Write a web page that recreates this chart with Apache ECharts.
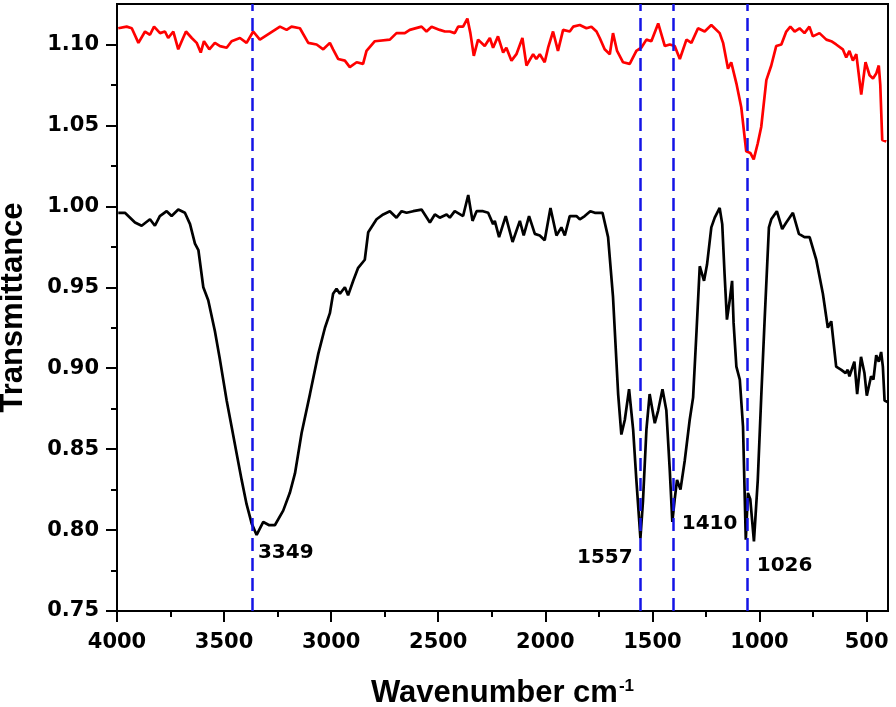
<!DOCTYPE html>
<html>
<head>
<meta charset="utf-8">
<script src="https://cdn.jsdelivr.net/npm/echarts@6/dist/echarts.min.js"></script>
<style>
  html, body { margin: 0; padding: 0; background: #fff; }
  #main { width: 896px; height: 707px; }
</style>
</head>
<body>
<div id="main"></div>
<script>
// spectra: [wavenumber cm-1, transmittance]
const blackSpectrum = [
  [3994, 0.996], [3963, 0.996], [3916, 0.990], [3885, 0.988], [3846, 0.992], [3823, 0.988],
  [3800, 0.994], [3768, 0.997], [3745, 0.994], [3714, 0.998], [3683, 0.996], [3659, 0.989],
  [3636, 0.977], [3620, 0.973], [3597, 0.950], [3574, 0.942], [3543, 0.923], [3519, 0.905],
  [3488, 0.880], [3465, 0.864], [3441, 0.847], [3418, 0.831], [3395, 0.816], [3371, 0.804],
  [3348, 0.797], [3317, 0.805], [3289, 0.803], [3263, 0.803], [3224, 0.812], [3193, 0.823],
  [3169, 0.835], [3138, 0.860], [3099, 0.884], [3060, 0.909], [3029, 0.925], [3006, 0.934],
  [2991, 0.946], [2975, 0.949], [2959, 0.946], [2936, 0.950], [2921, 0.945], [2897, 0.954],
  [2874, 0.962], [2843, 0.967], [2827, 0.984], [2788, 0.992], [2757, 0.995], [2726, 0.997],
  [2695, 0.993], [2671, 0.997], [2648, 0.996], [2617, 0.997], [2578, 0.998], [2539, 0.990],
  [2516, 0.995], [2493, 0.993], [2461, 0.995], [2446, 0.993], [2423, 0.997], [2384, 0.994],
  [2360, 1.007], [2340, 0.991], [2321, 0.997], [2291, 0.997], [2267, 0.996], [2244, 0.989],
  [2236, 0.991], [2216, 0.981], [2185, 0.994], [2153, 0.978], [2119, 0.991], [2101, 0.982],
  [2076, 0.994], [2049, 0.983], [2026, 0.982], [2003, 0.979], [1976, 0.999], [1948, 0.982],
  [1925, 0.987], [1909, 0.982], [1886, 0.994], [1855, 0.994], [1839, 0.992], [1816, 0.994],
  [1790, 0.997], [1769, 0.996], [1733, 0.996], [1707, 0.981], [1684, 0.944], [1660, 0.884],
  [1645, 0.859], [1629, 0.868], [1609, 0.887], [1590, 0.862], [1575, 0.831], [1556, 0.795],
  [1544, 0.818], [1528, 0.862], [1513, 0.884], [1489, 0.866], [1473, 0.874], [1453, 0.887],
  [1435, 0.874], [1419, 0.837], [1407, 0.805], [1396, 0.819], [1385, 0.831], [1369, 0.825],
  [1349, 0.843], [1326, 0.868], [1310, 0.882], [1294, 0.923], [1279, 0.963], [1259, 0.954],
  [1245, 0.964], [1225, 0.987], [1209, 0.993], [1186, 0.999], [1174, 0.989], [1163, 0.958],
  [1152, 0.930], [1139, 0.942], [1128, 0.954], [1121, 0.928], [1108, 0.901], [1092, 0.893],
  [1077, 0.864], [1064, 0.794], [1054, 0.823], [1043, 0.819], [1026, 0.793], [1008, 0.831],
  [992, 0.882], [976, 0.930], [956, 0.987], [945, 0.992], [919, 0.997], [894, 0.986],
  [875, 0.990], [844, 0.996], [816, 0.983], [790, 0.981], [766, 0.981], [735, 0.967],
  [704, 0.946], [681, 0.925], [665, 0.929], [642, 0.901], [618, 0.899], [598, 0.897],
  [588, 0.899], [580, 0.895], [557, 0.904], [544, 0.884], [526, 0.907], [510, 0.897],
  [499, 0.883], [479, 0.895], [468, 0.893], [455, 0.908], [443, 0.904], [432, 0.910],
  [424, 0.901], [416, 0.880], [400, 0.879]
];

const redSpectrum = [
  [3994, 1.110], [3955, 1.111], [3931, 1.110], [3900, 1.101], [3869, 1.108], [3846, 1.106],
  [3827, 1.111], [3799, 1.107], [3776, 1.108], [3761, 1.104], [3737, 1.108], [3714, 1.097],
  [3698, 1.102], [3678, 1.108], [3651, 1.104], [3628, 1.101], [3609, 1.095], [3594, 1.102],
  [3569, 1.097], [3543, 1.101], [3519, 1.099], [3488, 1.098], [3465, 1.102], [3426, 1.104],
  [3395, 1.101], [3364, 1.108], [3333, 1.103], [3286, 1.107], [3239, 1.111], [3208, 1.109],
  [3185, 1.111], [3146, 1.110], [3107, 1.101], [3068, 1.100], [3037, 1.097], [3006, 1.101],
  [2991, 1.097], [2967, 1.091], [2936, 1.090], [2913, 1.086], [2881, 1.089], [2851, 1.088],
  [2835, 1.096], [2796, 1.102], [2726, 1.103], [2695, 1.107], [2656, 1.107], [2633, 1.109],
  [2578, 1.111], [2555, 1.108], [2531, 1.111], [2493, 1.109], [2469, 1.108], [2446, 1.108],
  [2423, 1.107], [2407, 1.111], [2384, 1.111], [2364, 1.116], [2350, 1.107], [2334, 1.093],
  [2314, 1.103], [2283, 1.099], [2259, 1.104], [2244, 1.098], [2221, 1.105], [2197, 1.095],
  [2182, 1.098], [2158, 1.090], [2135, 1.094], [2107, 1.104], [2088, 1.087], [2057, 1.094],
  [2042, 1.091], [2026, 1.094], [2003, 1.089], [1987, 1.098], [1964, 1.108], [1941, 1.096],
  [1917, 1.109], [1886, 1.108], [1870, 1.111], [1839, 1.112], [1808, 1.110], [1785, 1.111],
  [1761, 1.108], [1746, 1.104], [1723, 1.097], [1699, 1.094], [1684, 1.107], [1665, 1.096],
  [1637, 1.089], [1606, 1.088], [1575, 1.096], [1552, 1.098], [1528, 1.103], [1505, 1.102],
  [1473, 1.113], [1442, 1.099], [1419, 1.100], [1396, 1.099], [1372, 1.091], [1341, 1.103],
  [1318, 1.101], [1287, 1.110], [1256, 1.108], [1225, 1.112], [1186, 1.107], [1170, 1.101],
  [1147, 1.085], [1132, 1.089], [1108, 1.076], [1085, 1.061], [1062, 1.034], [1043, 1.033],
  [1027, 1.029], [1008, 1.039], [992, 1.049], [968, 1.078], [945, 1.087], [922, 1.099],
  [898, 1.100], [875, 1.108], [856, 1.111], [836, 1.108], [813, 1.110], [790, 1.107],
  [767, 1.111], [751, 1.105], [720, 1.107], [688, 1.103], [665, 1.102], [642, 1.100],
  [611, 1.097], [595, 1.092], [580, 1.096], [564, 1.090], [548, 1.094], [525, 1.069],
  [505, 1.089], [486, 1.081], [470, 1.079], [455, 1.082], [443, 1.087], [436, 1.075],
  [427, 1.041], [408, 1.040]
];

// dashed marker lines and their peak labels
const peakLines = [3370, 1555, 1405, 1055];
const peakNames = ['3349', '1557', '1410', '1026'];
const peakLabelT = [0.786, 0.783, 0.804, 0.778];
const peakSide = ['right', 'left', 'right', 'right'];

const xMajor = [500, 1000, 1500, 2000, 2500, 3000, 3500, 4000];
const xMinor = [750, 1250, 1750, 2250, 2750, 3250, 3750];
const yMajor = [0.75, 0.80, 0.85, 0.90, 0.95, 1.00, 1.05, 1.10];
const yMinor = [0.775, 0.825, 0.875, 0.925, 0.975, 1.025, 1.075];

const numFont = {
    fontFamily: 'DejaVu Sans',
    fontWeight: 'bold',
    fontSize: 21,
    color: '#000'
};
const axisLine = {show: true, lineStyle: {color: '#000', width: 2}};

const option = {
    animation: false,
    backgroundColor: '#fff',
    grid: {
        left: 117, right: 8, top: 4, bottom: 96,
        containLabel: false,
        outerBoundsMode: 'none',
        show: true, borderColor: '#000', borderWidth: 2
    },
    xAxis: [{
        type: 'value', min: 400, max: 4000, inverse: true, position: 'bottom',
        axisLine: axisLine,
        axisTick: {show: true, customValues: xMajor, length: 11, lineStyle: {color: '#000', width: 2}},
        axisLabel: Object.assign({customValues: xMajor, margin: 21, formatter: v => String(v)}, numFont),
        splitLine: {show: false},
        name: '{t|Wavenumber cm}{s|-1}',
        nameLocation: 'middle',
        nameGap: 67,
        nameTextStyle: {
            rich: {
                t: {fontFamily: 'Liberation Sans', fontWeight: 'bold', fontSize: 31, color: '#000'},
                s: {fontFamily: 'Liberation Sans', fontWeight: 'bold', fontSize: 17, color: '#000', verticalAlign: 'top', padding: [0, 0, 13, 1]}
            }
        }
    }, {
        type: 'value', min: 400, max: 4000, inverse: true, position: 'bottom',
        axisLine: {show: false},
        axisTick: {show: true, customValues: xMinor, length: 6, lineStyle: {color: '#000', width: 2}},
        axisLabel: {show: false},
        splitLine: {show: false}
    }],
    yAxis: [{
        type: 'value', min: 0.75, max: 1.125, position: 'left',
        axisLine: axisLine,
        axisTick: {show: true, customValues: yMajor, length: 11, lineStyle: {color: '#000', width: 2}},
        axisLabel: Object.assign({
            customValues: yMajor, margin: 18,
            formatter: v => Number(v).toFixed(2)
        }, numFont),
        splitLine: {show: false},
        name: 'Transmittance',
        nameLocation: 'middle',
        nameGap: 88,
        nameTextStyle: {fontFamily: 'Liberation Sans', fontWeight: 'bold', fontSize: 31, color: '#000'}
    }, {
        type: 'value', min: 0.75, max: 1.125, position: 'left',
        axisLine: {show: false},
        axisTick: {show: true, customValues: yMinor, length: 6, lineStyle: {color: '#000', width: 2}},
        axisLabel: {show: false},
        splitLine: {show: false}
    }],
    series: [{
        type: 'line',
        data: redSpectrum,
        showSymbol: false,
        lineStyle: {color: '#ff0000', width: 2.7},
        z: 3
    }, {
        type: 'line',
        data: blackSpectrum,
        showSymbol: false,
        lineStyle: {color: '#000', width: 2.7},
        z: 3,
        markLine: {
            silent: true,
            symbol: 'none',
            label: {show: false},
            lineStyle: {color: '#1414e6', width: 2.5, type: [13, 7]},
            data: peakLines.map(v => ({xAxis: v}))
        }
    }, {
        type: 'scatter',
        symbolSize: 0,
        z: 6,
        label: {
            show: true,
            fontFamily: 'DejaVu Sans',
            fontWeight: 'bold',
            fontSize: 20,
            color: '#000',
            opacity: 1
        },
        emphasis: {disabled: true},
        data: peakLines.map((v, i) => ({
            value: [v, peakLabelT[i]],
            label: {
                formatter: peakNames[i],
                position: peakSide[i],
                distance: peakSide[i] === 'left' ? 8 : (i === 0 ? 6 : 9)
            }
        }))
    }]
};

const chart = echarts.init(document.getElementById('main'));
chart.setOption(option);
</script>
</body>
</html>
